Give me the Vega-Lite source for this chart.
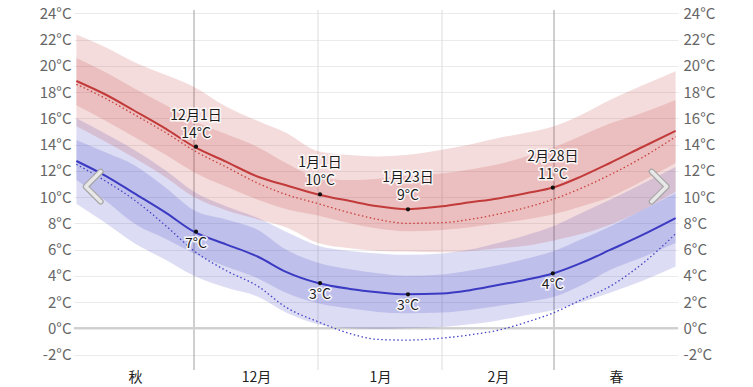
{
  "$schema": "https://vega.github.io/schema/vega-lite/v6.json",
  "width": 604,
  "height": 360,
  "autosize": {"type": "none"},
  "padding": {"left": 74, "top": 10, "right": 75, "bottom": 17},
  "background": "white",
  "config": {"view": {"stroke": null}, "font": "Noto Sans CJK JP"},
  "datasets": {
    "temps": [
      {"d": 0.6, "hi": 18.85, "lo": 12.75, "fhi": 18.6, "flo": 12.5, "h90": 22.4, "h75": 20.6, "h25": 17.0, "h10": 15.4, "l90": 16.0, "l75": 14.35, "l25": 11.3, "l10": 9.5},
      {"d": 8, "hi": 17.8, "lo": 11.6, "fhi": 17.5, "flo": 11.2, "h90": 21.4, "h75": 19.5, "h25": 15.8, "h10": 14.2, "l90": 14.8, "l75": 13.4, "l25": 9.7, "l10": 8.0},
      {"d": 15, "hi": 16.6, "lo": 10.3, "fhi": 16.3, "flo": 9.8, "h90": 20.3, "h75": 18.3, "h25": 14.6, "h10": 13.0, "l90": 13.6, "l75": 12.45, "l25": 8.0, "l10": 6.5},
      {"d": 23, "hi": 15.2, "lo": 8.8, "fhi": 14.9, "flo": 7.8, "h90": 19.3, "h75": 17.0, "h25": 13.2, "h10": 11.5, "l90": 12.0, "l75": 10.7, "l25": 6.8, "l10": 5.2},
      {"d": 30, "hi": 13.84, "lo": 7.36, "fhi": 13.55, "flo": 5.9, "h90": 18.4, "h75": 15.8, "h25": 11.9, "h10": 10.0, "l90": 10.4, "l75": 9.0, "l25": 5.7, "l10": 4.0},
      {"d": 38, "hi": 12.7, "lo": 6.4, "fhi": 12.3, "flo": 4.4, "h90": 16.9, "h75": 14.8, "h25": 10.8, "h10": 9.0, "l90": 9.3, "l75": 8.3, "l25": 4.7, "l10": 3.1},
      {"d": 46, "hi": 11.55, "lo": 5.45, "fhi": 11.05, "flo": 3.2, "h90": 15.8, "h75": 13.8, "h25": 9.8, "h10": 8.3, "l90": 8.4, "l75": 7.5, "l25": 3.8, "l10": 2.4},
      {"d": 53, "hi": 10.9, "lo": 4.3, "fhi": 10.2, "flo": 1.6, "h90": 14.9, "h75": 12.6, "h25": 9.1, "h10": 7.7, "l90": 7.35, "l75": 6.0, "l25": 2.7, "l10": 1.2},
      {"d": 61, "hi": 10.2, "lo": 3.45, "fhi": 9.5, "flo": 0.5, "h90": 13.5, "h75": 11.5, "h25": 8.6, "h10": 6.5, "l90": 6.3, "l75": 5.0, "l25": 1.9, "l10": 0.3},
      {"d": 69, "hi": 9.7, "lo": 3.0, "fhi": 8.8, "flo": -0.4, "h90": 13.2, "h75": 11.3, "h25": 8.0, "h10": 6.1, "l90": 5.9, "l75": 4.5, "l25": 1.5, "l10": 0.0},
      {"d": 76, "hi": 9.3, "lo": 2.75, "fhi": 8.3, "flo": -0.85, "h90": 13.1, "h75": 11.4, "h25": 7.6, "h10": 5.9, "l90": 5.7, "l75": 4.2, "l25": 1.25, "l10": -0.05},
      {"d": 83, "hi": 9.07, "lo": 2.6, "fhi": 8.0, "flo": -0.9, "h90": 13.2, "h75": 11.6, "h25": 7.4, "h10": 5.85, "l90": 5.6, "l75": 4.0, "l25": 1.15, "l10": 0.0},
      {"d": 92, "hi": 9.3, "lo": 2.65, "fhi": 8.05, "flo": -0.75, "h90": 13.6, "h75": 11.8, "h25": 7.5, "h10": 5.8, "l90": 5.7, "l75": 4.1, "l25": 1.2, "l10": 0.1},
      {"d": 99, "hi": 9.6, "lo": 2.9, "fhi": 8.3, "flo": -0.5, "h90": 14.0, "h75": 12.1, "h25": 7.7, "h10": 5.9, "l90": 6.0, "l75": 4.4, "l25": 1.4, "l10": 0.3},
      {"d": 106, "hi": 9.9, "lo": 3.3, "fhi": 8.7, "flo": -0.15, "h90": 14.5, "h75": 12.5, "h25": 8.0, "h10": 6.1, "l90": 6.5, "l75": 4.8, "l25": 1.7, "l10": 0.6},
      {"d": 113, "hi": 10.3, "lo": 3.7, "fhi": 9.2, "flo": 0.45, "h90": 14.9, "h75": 13.1, "h25": 8.3, "h10": 6.3, "l90": 7.1, "l75": 5.3, "l25": 2.0, "l10": 1.0},
      {"d": 120, "hi": 10.75, "lo": 4.2, "fhi": 9.85, "flo": 1.2, "h90": 15.4, "h75": 13.8, "h25": 8.7, "h10": 6.7, "l90": 7.8, "l75": 5.9, "l25": 2.4, "l10": 1.4},
      {"d": 127, "hi": 11.6, "lo": 5.0, "fhi": 10.7, "flo": 2.2, "h90": 16.3, "h75": 14.7, "h25": 9.3, "h10": 7.2, "l90": 8.8, "l75": 6.8, "l25": 3.3, "l10": 2.0},
      {"d": 134, "hi": 12.6, "lo": 5.97, "fhi": 11.7, "flo": 3.2, "h90": 17.4, "h75": 15.6, "h25": 10.0, "h10": 7.9, "l90": 9.8, "l75": 7.75, "l25": 4.45, "l10": 2.7},
      {"d": 142, "hi": 13.8, "lo": 7.1, "fhi": 13.0, "flo": 4.9, "h90": 18.5, "h75": 16.4, "h25": 11.2, "h10": 9.0, "l90": 11.0, "l75": 9.0, "l25": 5.4, "l10": 3.6},
      {"d": 150.4, "hi": 15.05, "lo": 8.4, "fhi": 14.6, "flo": 7.2, "h90": 19.6, "h75": 17.4, "h25": 12.6, "h10": 10.4, "l90": 12.3, "l75": 10.3, "l25": 6.5, "l10": 4.7}
    ],
    "ann": [
      {"d": 30.5, "t": 13.84, "lab": "12月1日\n14°C", "series": "hi"},
      {"d": 61.5, "t": 10.2, "lab": "1月1日\n10°C", "series": "hi"},
      {"d": 83.5, "t": 9.07, "lab": "1月23日\n9°C", "series": "hi"},
      {"d": 119.7, "t": 10.72, "lab": "2月28日\n11°C", "series": "hi"},
      {"d": 30.5, "t": 7.36, "lab": "7°C", "series": "lo"},
      {"d": 61.5, "t": 3.45, "lab": "3°C", "series": "lo"},
      {"d": 83.5, "t": 2.59, "lab": "3°C", "series": "lo"},
      {"d": 119.7, "t": 4.19, "lab": "4°C", "series": "lo"}
    ],
    "majorRules": [{"d": 30}, {"d": 120}],
    "minorRules": [{"d": 61}, {"d": 92}],
    "zero": [{"t": 0}],
    "nav": [{"d": 4.8, "t": 10.8, "dir": "prev"}, {"d": 146.3, "t": 10.8, "dir": "next"}]
  },
  "encoding": {
    "x": {"field": "d", "type": "quantitative", "scale": {"domain": [0, 151], "nice": false, "zero": false},
      "axis": {"values": [15.25, 45.5, 76.5, 106, 135.5], "labelExpr": "datum.value < 30 ? '秋' : datum.value < 61 ? '12月' : datum.value < 92 ? '1月' : datum.value < 120 ? '2月' : '春'", "ticks": false, "grid": false, "domain": false, "labelColor": "#222", "labelFontSize": 14, "labelPadding": 0, "title": null}}
  },
  "layer": [
    {
      "data": {"name": "minorRules"},
      "mark": {"type": "rule", "color": "#dddddd", "strokeWidth": 1},
      "encoding": {}
    },
    {
      "data": {"name": "majorRules"},
      "mark": {"type": "rule", "color": "#a0a0a0", "strokeWidth": 1},
      "encoding": {}
    },
    {
      "data": {"name": "zero"},
      "mark": {"type": "rule", "color": "#cfcfcf", "strokeWidth": 2},
      "encoding": {
        "x": null,
        "y": {"field": "t", "type": "quantitative", "scale": {"domain": [-3.18, 24.26], "nice": false, "zero": false},
          "axis": {"orient": "left", "values": [-2, 0, 2, 4, 6, 8, 10, 12, 14, 16, 18, 20, 22, 24], "labelExpr": "datum.value + '°C'", "grid": true, "gridColor": "#ebebeb", "gridWidth": 1, "domain": false, "ticks": false, "labelPadding": 3, "labelFontSize": 15, "labelColor": "#666", "title": null}}
      }
    },
    {
      "data": {"name": "zero"},
      "mark": {"type": "rule", "color": "#cfcfcf", "strokeWidth": 2},
      "encoding": {
        "x": null,
        "y": {"field": "t", "type": "quantitative",
          "axis": {"orient": "right", "values": [-2, 0, 2, 4, 6, 8, 10, 12, 14, 16, 18, 20, 22, 24], "labelExpr": "datum.value + '°C'", "grid": false, "domain": false, "ticks": false, "labelPadding": 5, "labelFontSize": 15, "labelColor": "#666", "title": null}}
      }
    },
    {
      "data": {"name": "temps"},
      "mark": {"type": "area", "color": "#3c3cc4", "opacity": 0.18, "interpolate": "monotone"},
      "encoding": {"y": {"field": "l90", "type": "quantitative", "axis": null}, "y2": {"field": "l10"}}
    },
    {
      "data": {"name": "temps"},
      "mark": {"type": "area", "color": "#3c3cc4", "opacity": 0.18, "interpolate": "monotone"},
      "encoding": {"y": {"field": "l75", "type": "quantitative", "axis": null}, "y2": {"field": "l25"}}
    },
    {
      "data": {"name": "temps"},
      "mark": {"type": "area", "color": "#c43c3c", "opacity": 0.18, "interpolate": "monotone"},
      "encoding": {"y": {"field": "h90", "type": "quantitative", "axis": null}, "y2": {"field": "h10"}}
    },
    {
      "data": {"name": "temps"},
      "mark": {"type": "area", "color": "#c43c3c", "opacity": 0.18, "interpolate": "monotone"},
      "encoding": {"y": {"field": "h75", "type": "quantitative", "axis": null}, "y2": {"field": "h25"}}
    },
    {
      "data": {"name": "temps"},
      "mark": {"type": "line", "color": "#c8403c", "strokeWidth": 1.3, "strokeDash": [1.5, 2.5], "interpolate": "monotone"},
      "encoding": {"y": {"field": "fhi", "type": "quantitative", "axis": null}}
    },
    {
      "data": {"name": "temps"},
      "mark": {"type": "line", "color": "#4444c8", "strokeWidth": 1.3, "strokeDash": [1.5, 2.5], "interpolate": "monotone"},
      "encoding": {"y": {"field": "flo", "type": "quantitative", "axis": null}}
    },
    {
      "data": {"name": "temps"},
      "mark": {"type": "line", "color": "#c23a3a", "strokeWidth": 2, "interpolate": "monotone"},
      "encoding": {"y": {"field": "hi", "type": "quantitative", "axis": null}}
    },
    {
      "data": {"name": "temps"},
      "mark": {"type": "line", "color": "#3a3ac2", "strokeWidth": 2, "interpolate": "monotone"},
      "encoding": {"y": {"field": "lo", "type": "quantitative", "axis": null}}
    },
    {
      "data": {"name": "ann"},
      "mark": {"type": "point", "filled": true, "color": "#111", "size": 18, "opacity": 1},
      "encoding": {"y": {"field": "t", "type": "quantitative", "axis": null}}
    },
    {
      "data": {"name": "ann"},
      "transform": [{"filter": "datum.series === 'hi'"}],
      "mark": {"type": "text", "baseline": "bottom", "align": "center", "dy": -24, "fontSize": 14, "lineHeight": 18, "lineBreak": "\n", "fill": "white", "stroke": "white", "strokeWidth": 3, "strokeOpacity": 0.85},
      "encoding": {"y": {"field": "t", "type": "quantitative", "axis": null}, "text": {"field": "lab"}}
    },
    {
      "data": {"name": "ann"},
      "transform": [{"filter": "datum.series === 'hi'"}],
      "mark": {"type": "text", "baseline": "bottom", "align": "center", "dy": -24, "fontSize": 14, "lineHeight": 18, "lineBreak": "\n", "fill": "#1a1a1a"},
      "encoding": {"y": {"field": "t", "type": "quantitative", "axis": null}, "text": {"field": "lab"}}
    },
    {
      "data": {"name": "ann"},
      "transform": [{"filter": "datum.series === 'lo'"}],
      "mark": {"type": "text", "baseline": "top", "align": "center", "dy": 5, "fontSize": 14, "fill": "white", "stroke": "white", "strokeWidth": 3, "strokeOpacity": 0.85},
      "encoding": {"y": {"field": "t", "type": "quantitative", "axis": null}, "text": {"field": "lab"}}
    },
    {
      "data": {"name": "ann"},
      "transform": [{"filter": "datum.series === 'lo'"}],
      "mark": {"type": "text", "baseline": "top", "align": "center", "dy": 5, "fontSize": 14, "fill": "#1a1a1a"},
      "encoding": {"y": {"field": "t", "type": "quantitative", "axis": null}, "text": {"field": "lab"}}
    },
    {
      "data": {"name": "nav"},
      "transform": [{"filter": "datum.dir === 'prev'"}],
      "mark": {"type": "point", "shape": "M 0.5 -1 L -0.5 0 L 0.5 1", "filled": false, "size": 900, "stroke": "#a8a8a8", "strokeWidth": 6, "strokeCap": "round", "strokeJoin": "round", "opacity": 1},
      "encoding": {"y": {"field": "t", "type": "quantitative", "axis": null}}
    },
    {
      "data": {"name": "nav"},
      "transform": [{"filter": "datum.dir === 'prev'"}],
      "mark": {"type": "point", "shape": "M 0.5 -1 L -0.5 0 L 0.5 1", "filled": false, "size": 900, "stroke": "#e8e8e8", "strokeWidth": 3.5, "strokeCap": "round", "strokeJoin": "round", "opacity": 1},
      "encoding": {"y": {"field": "t", "type": "quantitative", "axis": null}}
    },
    {
      "data": {"name": "nav"},
      "transform": [{"filter": "datum.dir === 'next'"}],
      "mark": {"type": "point", "shape": "M -0.5 -1 L 0.5 0 L -0.5 1", "filled": false, "size": 900, "stroke": "#a8a8a8", "strokeWidth": 6, "strokeCap": "round", "strokeJoin": "round", "opacity": 1},
      "encoding": {"y": {"field": "t", "type": "quantitative", "axis": null}}
    },
    {
      "data": {"name": "nav"},
      "transform": [{"filter": "datum.dir === 'next'"}],
      "mark": {"type": "point", "shape": "M -0.5 -1 L 0.5 0 L -0.5 1", "filled": false, "size": 900, "stroke": "#e8e8e8", "strokeWidth": 3.5, "strokeCap": "round", "strokeJoin": "round", "opacity": 1},
      "encoding": {"y": {"field": "t", "type": "quantitative", "axis": null}}
    }
  ],
  "resolve": {"axis": {"y": "independent"}}
}
